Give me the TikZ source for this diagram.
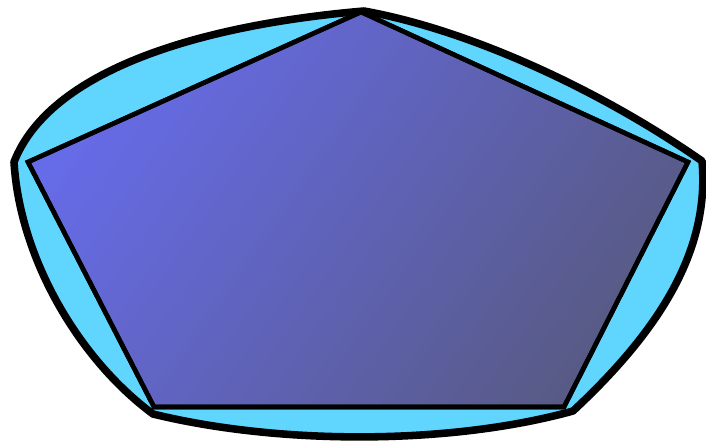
\documentclass[tikz,border=0pt]{standalone}
\usetikzlibrary{calc}
\definecolor{hullcyan}{HTML}{60D6FF}
\definecolor{pentlight}{HTML}{666BE8}
\definecolor{pentdark}{HTML}{585A85}

\begin{document}
\begin{tikzpicture}[
  x=0.02cm, y=-0.02cm,
  hull/.style={draw=black, fill=hullcyan, line width=4.3pt, line join=round},
  pent/.style={draw=black, line width=2.6pt, left color=pentlight,
    right color=pentdark, shading angle=55},
]
\useasboundingbox (0,0) rectangle (706,447);
% outer blob corners
\coordinate (hT) at (364,11);
\coordinate (hL) at (14,162);
\coordinate (hR) at (702,161);
\coordinate (hBL) at (153,414);
\coordinate (hBR) at (573,411);
% pentagon corners
\coordinate (pT) at (361,12);
\coordinate (pL) at (28,162);
\coordinate (pR) at (688,162);
\coordinate (pBL) at (154,407);
\coordinate (pBR) at (564,407);
% blob
\draw[hull] (hL) .. controls (50,70) and (200,25) .. (hT)
  .. controls (470,30) and (600,90) .. (hR)
  .. controls (710,250) and (660,330) .. (hBR)
  .. controls (450,445) and (280,445) .. (hBL)
  .. controls (80,360) and (20,260) .. cycle;
% pentagon
\shade[pent] (pT) -- (pR) -- (pBR) -- (pBL) -- (pL) -- cycle;
\draw[line width=2.6pt] (pT) -- (pR) -- (pBR) -- (pBL) -- (pL) -- cycle;
\end{tikzpicture}
\end{document}
